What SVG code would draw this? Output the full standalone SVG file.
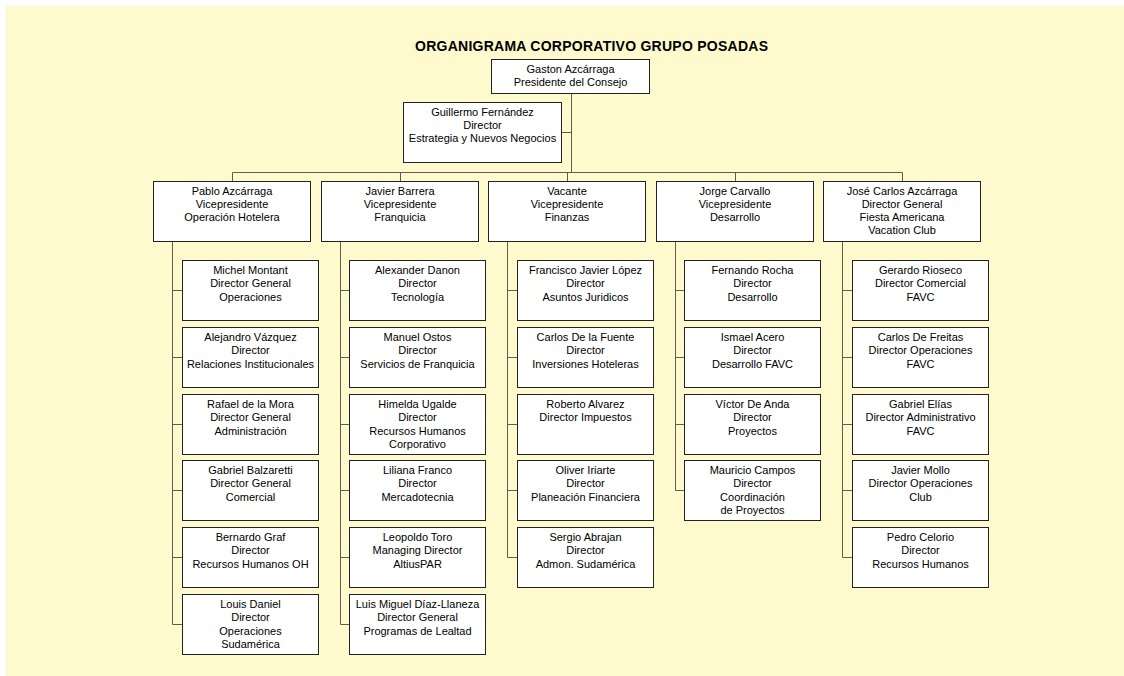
<svg xmlns="http://www.w3.org/2000/svg" width="1124" height="676" viewBox="0 0 1124 676">
<style>
.bx{fill:#fff;stroke:#222;stroke-width:1}
.ln{fill:none;stroke:#5e5e4c;stroke-width:1}
.t{font-family:"Liberation Sans",Arial,sans-serif;font-size:11px;fill:#000;text-anchor:middle}
.ti{font-family:"Liberation Sans",Arial,sans-serif;font-size:14px;font-weight:bold;fill:#000}
</style>
<rect x="0" y="0" width="1124" height="676" fill="#fff"/>
<rect x="6" y="6" width="1118" height="670" fill="#fffacd"/>
<text class="ti" x="415" y="50.5" textLength="353" lengthAdjust="spacing">ORGANIGRAMA CORPORATIVO GRUPO POSADAS</text>
<g id="connectors">
<path class="ln" d="M571.5 93.5V172.5M562 132.5H571.5M232.5 172.5H902.5M232.5 172.5V181M400.5 172.5V181M567.5 172.5V181M735.5 172.5V181M902.5 172.5V181"/>
<path class="ln" d="M172.5 241V624.5M172.5 290.5H182M172.5 357.5H182M172.5 424.5H182M172.5 490.5H182M172.5 557.5H182M172.5 624.5H182"/>
<path class="ln" d="M340.5 241V624.5M340.5 290.5H349M340.5 357.5H349M340.5 424.5H349M340.5 490.5H349M340.5 557.5H349M340.5 624.5H349"/>
<path class="ln" d="M507.5 241V557.5M507.5 290.5H517M507.5 357.5H517M507.5 424.5H517M507.5 490.5H517M507.5 557.5H517"/>
<path class="ln" d="M675.5 241V490.5M675.5 290.5H684M675.5 357.5H684M675.5 424.5H684M675.5 490.5H684"/>
<path class="ln" d="M842.5 241V557.5M842.5 290.5H852M842.5 357.5H852M842.5 424.5H852M842.5 490.5H852M842.5 557.5H852"/>
</g>
<g id="presidente"><rect class="bx" x="491.5" y="59.5" width="158" height="34"/><text class="t" x="570.5" y="73">Gaston Azcárraga<tspan x="570.5" dy="13.3">Presidente del Consejo</tspan></text></g>
<g id="estrategia"><rect class="bx" x="403.5" y="102.5" width="158" height="60"/><text class="t" x="482.5" y="115.5">Guillermo Fernández<tspan x="482.5" dy="13.3">Director</tspan><tspan x="482.5" dy="13.3">Estrategia y Nuevos Negocios</tspan></text></g>
<g id="vp-operacion"><rect class="bx" x="153.5" y="181.5" width="157" height="60"/><text class="t" x="232" y="194.5">Pablo Azcárraga<tspan x="232" dy="13.3">Vicepresidente</tspan><tspan x="232" dy="13.3">Operación Hotelera</tspan></text></g>
<g id="vp-franquicia"><rect class="bx" x="321.5" y="181.5" width="157" height="60"/><text class="t" x="400" y="194.5">Javier Barrera<tspan x="400" dy="13.3">Vicepresidente</tspan><tspan x="400" dy="13.3">Franquicia</tspan></text></g>
<g id="vp-finanzas"><rect class="bx" x="488.5" y="181.5" width="157" height="60"/><text class="t" x="567" y="194.5">Vacante<tspan x="567" dy="13.3">Vicepresidente</tspan><tspan x="567" dy="13.3">Finanzas</tspan></text></g>
<g id="vp-desarrollo"><rect class="bx" x="656.5" y="181.5" width="157" height="60"/><text class="t" x="735" y="194.5">Jorge Carvallo<tspan x="735" dy="13.3">Vicepresidente</tspan><tspan x="735" dy="13.3">Desarrollo</tspan></text></g>
<g id="dg-favc"><rect class="bx" x="823.5" y="181.5" width="157" height="60"/><text class="t" x="902" y="194.5">José Carlos Azcárraga<tspan x="902" dy="13.3">Director General</tspan><tspan x="902" dy="13.3">Fiesta Americana</tspan><tspan x="902" dy="13.3">Vacation Club</tspan></text></g>

<g id="c1-1"><rect class="bx" x="182.5" y="260.5" width="136" height="60"/><text class="t" x="250.5" y="274">Michel Montant<tspan x="250.5" dy="13.3">Director General</tspan><tspan x="250.5" dy="13.3">Operaciones</tspan></text></g>
<g id="c1-2"><rect class="bx" x="182.5" y="327.5" width="136" height="60"/><text class="t" x="250.5" y="341">Alejandro Vázquez<tspan x="250.5" dy="13.3">Director</tspan><tspan x="250.5" dy="13.3">Relaciones Institucionales</tspan></text></g>
<g id="c1-3"><rect class="bx" x="182.5" y="394.5" width="136" height="60"/><text class="t" x="250.5" y="408">Rafael de la Mora<tspan x="250.5" dy="13.3">Director General</tspan><tspan x="250.5" dy="13.3">Administración</tspan></text></g>
<g id="c1-4"><rect class="bx" x="182.5" y="460.5" width="136" height="60"/><text class="t" x="250.5" y="474">Gabriel Balzaretti<tspan x="250.5" dy="13.3">Director General</tspan><tspan x="250.5" dy="13.3">Comercial</tspan></text></g>
<g id="c1-5"><rect class="bx" x="182.5" y="527.5" width="136" height="60"/><text class="t" x="250.5" y="541">Bernardo Graf<tspan x="250.5" dy="13.3">Director</tspan><tspan x="250.5" dy="13.3">Recursos Humanos OH</tspan></text></g>
<g id="c1-6"><rect class="bx" x="182.5" y="594.5" width="136" height="60"/><text class="t" x="250.5" y="608">Louis Daniel<tspan x="250.5" dy="13.3">Director</tspan><tspan x="250.5" dy="13.3">Operaciones</tspan><tspan x="250.5" dy="13.3">Sudamérica</tspan></text></g>

<g id="c2-1"><rect class="bx" x="349.5" y="260.5" width="136" height="60"/><text class="t" x="417.5" y="274">Alexander Danon<tspan x="417.5" dy="13.3">Director</tspan><tspan x="417.5" dy="13.3">Tecnología</tspan></text></g>
<g id="c2-2"><rect class="bx" x="349.5" y="327.5" width="136" height="60"/><text class="t" x="417.5" y="341">Manuel Ostos<tspan x="417.5" dy="13.3">Director</tspan><tspan x="417.5" dy="13.3">Servicios de Franquicia</tspan></text></g>
<g id="c2-3"><rect class="bx" x="349.5" y="394.5" width="136" height="60"/><text class="t" x="417.5" y="408">Himelda Ugalde<tspan x="417.5" dy="13.3">Director</tspan><tspan x="417.5" dy="13.3">Recursos Humanos</tspan><tspan x="417.5" dy="13.3">Corporativo</tspan></text></g>
<g id="c2-4"><rect class="bx" x="349.5" y="460.5" width="136" height="60"/><text class="t" x="417.5" y="474">Liliana Franco<tspan x="417.5" dy="13.3">Director</tspan><tspan x="417.5" dy="13.3">Mercadotecnia</tspan></text></g>
<g id="c2-5"><rect class="bx" x="349.5" y="527.5" width="136" height="60"/><text class="t" x="417.5" y="541">Leopoldo Toro<tspan x="417.5" dy="13.3">Managing Director</tspan><tspan x="417.5" dy="13.3">AltiusPAR</tspan></text></g>
<g id="c2-6"><rect class="bx" x="349.5" y="594.5" width="136" height="60"/><text class="t" x="417.5" y="608">Luis Miguel Díaz-Llaneza<tspan x="417.5" dy="13.3">Director General</tspan><tspan x="417.5" dy="13.3">Programas de Lealtad</tspan></text></g>

<g id="c3-1"><rect class="bx" x="517.5" y="260.5" width="136" height="60"/><text class="t" x="585.5" y="274">Francisco Javier López<tspan x="585.5" dy="13.3">Director</tspan><tspan x="585.5" dy="13.3">Asuntos Juridicos</tspan></text></g>
<g id="c3-2"><rect class="bx" x="517.5" y="327.5" width="136" height="60"/><text class="t" x="585.5" y="341">Carlos De la Fuente<tspan x="585.5" dy="13.3">Director</tspan><tspan x="585.5" dy="13.3">Inversiones Hoteleras</tspan></text></g>
<g id="c3-3"><rect class="bx" x="517.5" y="394.5" width="136" height="60"/><text class="t" x="585.5" y="408">Roberto Alvarez<tspan x="585.5" dy="13.3">Director Impuestos</tspan></text></g>
<g id="c3-4"><rect class="bx" x="517.5" y="460.5" width="136" height="60"/><text class="t" x="585.5" y="474">Oliver Iriarte<tspan x="585.5" dy="13.3">Director</tspan><tspan x="585.5" dy="13.3">Planeación Financiera</tspan></text></g>
<g id="c3-5"><rect class="bx" x="517.5" y="527.5" width="136" height="60"/><text class="t" x="585.5" y="541">Sergio Abrajan<tspan x="585.5" dy="13.3">Director</tspan><tspan x="585.5" dy="13.3">Admon. Sudamérica</tspan></text></g>

<g id="c4-1"><rect class="bx" x="684.5" y="260.5" width="136" height="60"/><text class="t" x="752.5" y="274">Fernando Rocha<tspan x="752.5" dy="13.3">Director</tspan><tspan x="752.5" dy="13.3">Desarrollo</tspan></text></g>
<g id="c4-2"><rect class="bx" x="684.5" y="327.5" width="136" height="60"/><text class="t" x="752.5" y="341">Ismael Acero<tspan x="752.5" dy="13.3">Director</tspan><tspan x="752.5" dy="13.3">Desarrollo FAVC</tspan></text></g>
<g id="c4-3"><rect class="bx" x="684.5" y="394.5" width="136" height="60"/><text class="t" x="752.5" y="408">Víctor De Anda<tspan x="752.5" dy="13.3">Director</tspan><tspan x="752.5" dy="13.3">Proyectos</tspan></text></g>
<g id="c4-4"><rect class="bx" x="684.5" y="460.5" width="136" height="60"/><text class="t" x="752.5" y="474">Mauricio Campos<tspan x="752.5" dy="13.3">Director</tspan><tspan x="752.5" dy="13.3">Coordinación</tspan><tspan x="752.5" dy="13.3">de Proyectos</tspan></text></g>

<g id="c5-1"><rect class="bx" x="852.5" y="260.5" width="136" height="60"/><text class="t" x="920.5" y="274">Gerardo Rioseco<tspan x="920.5" dy="13.3">Director Comercial</tspan><tspan x="920.5" dy="13.3">FAVC</tspan></text></g>
<g id="c5-2"><rect class="bx" x="852.5" y="327.5" width="136" height="60"/><text class="t" x="920.5" y="341">Carlos De Freitas<tspan x="920.5" dy="13.3">Director Operaciones</tspan><tspan x="920.5" dy="13.3">FAVC</tspan></text></g>
<g id="c5-3"><rect class="bx" x="852.5" y="394.5" width="136" height="60"/><text class="t" x="920.5" y="408">Gabriel Elías<tspan x="920.5" dy="13.3">Director Administrativo</tspan><tspan x="920.5" dy="13.3">FAVC</tspan></text></g>
<g id="c5-4"><rect class="bx" x="852.5" y="460.5" width="136" height="60"/><text class="t" x="920.5" y="474">Javier Mollo<tspan x="920.5" dy="13.3">Director Operaciones</tspan><tspan x="920.5" dy="13.3">Club</tspan></text></g>
<g id="c5-5"><rect class="bx" x="852.5" y="527.5" width="136" height="60"/><text class="t" x="920.5" y="541">Pedro Celorio<tspan x="920.5" dy="13.3">Director</tspan><tspan x="920.5" dy="13.3">Recursos Humanos</tspan></text></g>
</svg>
